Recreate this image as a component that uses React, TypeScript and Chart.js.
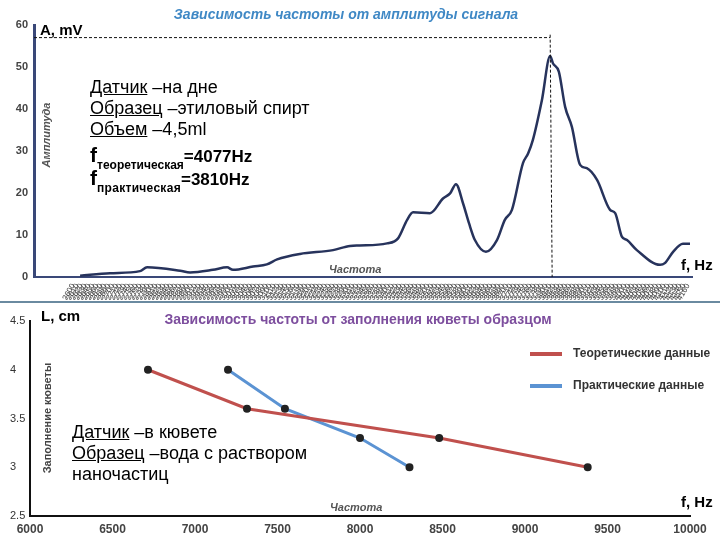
import React, { useEffect, useRef } from "react";
import { Chart, registerables } from "chart.js";
Chart.register(...registerables);

const FONT = "'Liberation Sans', Arial, sans-serif";
Chart.defaults.font.family = FONT;

// ---- Top chart: amplitude vs frequency ----
const signalFreqHz = [2617, 2693, 2769, 2787, 2871, 2896, 2954, 2990, 3005, 3056, 3091, 3117, 3175, 3259, 3302, 3327,
  3396, 3424, 3447, 3462, 3505, 3538, 3556, 3571, 3589, 3604, 3619, 3647, 3675, 3695, 3713, 3741, 3754, 3766, 3789, 3810,
  3817, 3832, 3848, 3865, 3886, 3903, 3929, 3962, 3975, 3992, 4005, 4030, 4089, 4101, 4122, 4147, 4165];
const signalAmpMV = [0.3, 0.9, 1.4, 2.3, 1.5, 1.1, 1.7, 2.3, 1.7, 2.5, 3.0, 4.2, 5.5, 6.4, 7.4, 7.5,
  8.0, 9.2, 13.6, 15.4, 15.2, 18.7, 19.9, 22.1, 17.5, 12.8, 8.8, 6.0, 8.8, 13.6, 16.0, 27.1, 29.4, 32.6, 42.1, 52.6,
  50.9, 48.9, 40.5, 35.8, 26.7, 25.9, 23.1, 16.0, 15.2, 9.6, 8.8, 6.4, 2.9, 3.3, 6.0, 7.9, 7.9];
const peakFreqHz = 3810;
const peakGuideMV = 57;
const topXMin = 2500;
const topXMax = 4170;
const topXTickFirst = 2600;
const topXTickLast = 4160;
const topXTickStep = 10;

// ---- Bottom chart: filling level vs frequency ----
const theoryFreqHz = [6715, 7315, 8480, 9380];
const theoryLevelCm = [4.0, 3.6, 3.3, 3.0];
const practiceFreqHz = [7200, 7545, 8000, 8300];
const practiceLevelCm = [4.0, 3.6, 3.3, 3.0];
const seriesNames = ["Теоретические данные", "Практические данные"];

const TOP_H = 300;
const BOT_TOP = 303;
const BOT_H = 237;

function topTexts(chart: any) {
  const { ctx, chartArea, scales } = chart;
  const xs = scales.x, ys = scales.y;
  ctx.save();
  const px = xs.getPixelForValue(peakFreqHz);
  const py = ys.getPixelForValue(peakGuideMV);
  ctx.setLineDash([3, 2]);
  ctx.strokeStyle = "#111";
  ctx.lineWidth = 1;
  ctx.beginPath();
  ctx.moveTo(chartArea.left, py);
  ctx.lineTo(px, py);
  ctx.moveTo(px, ys.getPixelForValue(peakGuideMV + 0.7));
  ctx.lineTo(px + 2, ys.getPixelForValue(0));
  ctx.stroke();
  ctx.setLineDash([]);

  ctx.textBaseline = "middle";
  ctx.textAlign = "center";
  ctx.fillStyle = "#3f88c5";
  ctx.font = `italic bold 14px ${FONT}`;
  ctx.fillText("Зависимость частоты от амплитуды сигнала", 346, 15);

  ctx.textAlign = "left";
  ctx.fillStyle = "#000";
  ctx.font = `bold 15px ${FONT}`;
  ctx.fillText("A, mV", 40, 31);
  ctx.fillText("f, Hz", 681, 266);

  ctx.fillStyle = "#555";
  ctx.font = `italic bold 11px ${FONT}`;
  ctx.fillText("Частота", 329, 270);
  ctx.save();
  ctx.translate(47, 135);
  ctx.rotate(-Math.PI / 2);
  ctx.textAlign = "center";
  ctx.fillText("Амплитуда", 0, 0);
  ctx.restore();
  ctx.restore();
}

function bottomTexts(chart: any) {
  const { ctx } = chart;
  const o = BOT_TOP;
  ctx.save();
  ctx.textBaseline = "middle";
  ctx.textAlign = "center";
  ctx.fillStyle = "#7d4e9e";
  ctx.font = `bold 14px ${FONT}`;
  ctx.fillText("Зависимость частоты от заполнения кюветы образцом", 358, 320 - o);

  ctx.textAlign = "left";
  ctx.fillStyle = "#000";
  ctx.font = `bold 15px ${FONT}`;
  ctx.fillText("L, cm", 41, 317 - o);
  ctx.fillText("f, Hz", 681, 503 - o);

  ctx.fillStyle = "#555";
  ctx.font = `italic bold 11px ${FONT}`;
  ctx.fillText("Частота", 330, 508 - o);

  ctx.save();
  ctx.fillStyle = "#444";
  ctx.font = `bold 11px ${FONT}`;
  ctx.translate(48, 418 - o);
  ctx.rotate(-Math.PI / 2);
  ctx.textAlign = "center";
  ctx.fillText("Заполнение кюветы", 0, 0);
  ctx.restore();

  const ys = [354 - o, 386 - o];
  chart.data.datasets.forEach((ds: any, i: number) => {
    ctx.strokeStyle = ds.borderColor;
    ctx.lineWidth = 4;
    ctx.beginPath();
    ctx.moveTo(530, ys[i]);
    ctx.lineTo(562, ys[i]);
    ctx.stroke();
    ctx.fillStyle = "#333";
    ctx.font = `bold 12px ${FONT}`;
    ctx.fillText(ds.label, 573, ys[i]);
  });
  ctx.restore();
}

export default function App() {
  const topRef = useRef<HTMLCanvasElement>(null);
  const botRef = useRef<HTMLCanvasElement>(null);

  useEffect(() => {
    const top = new Chart(topRef.current!, {
      type: "line",
      data: {
        datasets: [
          {
            data: signalFreqHz.map((x, i) => ({ x, y: signalAmpMV[i] })),
            borderColor: "#27335c",
            borderWidth: 2.5,
            pointRadius: 0,
            cubicInterpolationMode: "monotone",
            fill: false,
          },
        ],
      },
      options: {
        animation: false,
        responsive: false,
        maintainAspectRatio: false,
        layout: { padding: { left: 0, right: 28, top: 25, bottom: 0 } },
        plugins: { legend: { display: false }, tooltip: { enabled: false }, title: { display: false } },
        scales: {
          x: {
            type: "linear",
            min: topXMin,
            max: topXMax,
            grid: { display: false, drawTicks: false },
            border: { color: "#3a4878", width: 2 },
            ticks: {
              stepSize: topXTickStep,
              autoSkip: false,
              minRotation: 60,
              maxRotation: 60,
              padding: 5,
              color: "#444",
              font: { size: 8 },
              callback: (v: any) => (v >= topXTickFirst && v <= topXTickLast ? String(v) : ""),
            },
            afterFit: (s: any) => {
              s.height = 23;
            },
          },
          y: {
            min: 0,
            max: 60,
            grid: { display: false, drawTicks: false },
            border: { color: "#3a4878", width: 3 },
            ticks: { stepSize: 10, padding: 6, color: "#444", font: { size: 11, weight: "bold" } },
            afterFit: (s: any) => {
              s.width = 34;
            },
          },
        },
      },
      plugins: [{ id: "topTexts", afterDraw: topTexts }],
    } as any);

    const bot = new Chart(botRef.current!, {
      type: "line",
      data: {
        datasets: [
          {
            label: seriesNames[0],
            data: theoryFreqHz.map((x, i) => ({ x, y: theoryLevelCm[i] })),
            borderColor: "#c0504d",
            borderWidth: 3,
            pointRadius: 2.5,
            pointBackgroundColor: "#222",
            pointBorderColor: "#222",
            tension: 0,
          },
          {
            label: seriesNames[1],
            data: practiceFreqHz.map((x, i) => ({ x, y: practiceLevelCm[i] })),
            borderColor: "#5b93d3",
            borderWidth: 3,
            pointRadius: 2.5,
            pointBackgroundColor: "#222",
            pointBorderColor: "#222",
            tension: 0,
          },
        ],
      },
      options: {
        animation: false,
        responsive: false,
        maintainAspectRatio: false,
        layout: { padding: { left: 10, right: 30, top: 18, bottom: 0 } },
        plugins: { legend: { display: false }, tooltip: { enabled: false }, title: { display: false } },
        scales: {
          x: {
            type: "linear",
            min: 6000,
            max: 10000,
            grid: { display: false, drawTicks: false },
            border: { color: "#111", width: 2 },
            ticks: {
              stepSize: 500,
              maxRotation: 0,
              padding: 6,
              color: "#444",
              font: { size: 12, weight: "bold" },
              callback: (v: any) => String(v),
            },
            afterFit: (s: any) => {
              s.height = 24;
            },
          },
          y: {
            min: 2.5,
            max: 4.5,
            grid: { display: false, drawTicks: false },
            border: { color: "#111", width: 2 },
            ticks: {
              stepSize: 0.5,
              crossAlign: "far",
              padding: 4,
              color: "#333",
              font: { size: 11 },
              callback: (v: any) => String(v),
            },
            afterFit: (s: any) => {
              s.width = 20;
            },
          },
        },
      },
      plugins: [{ id: "botTexts", afterDraw: bottomTexts }],
    } as any);

    return () => {
      top.destroy();
      bot.destroy();
    };
  }, []);

  const info: React.CSSProperties = {
    position: "absolute",
    fontFamily: FONT,
    fontSize: 18,
    lineHeight: "21px",
    color: "#000",
    whiteSpace: "nowrap",
  };
  const fLine: React.CSSProperties = {
    position: "absolute",
    left: 90,
    fontFamily: FONT,
    fontWeight: "bold",
    color: "#000",
    whiteSpace: "nowrap",
    lineHeight: "24px",
  };

  return (
    <div style={{ position: "fixed", left: 0, top: 0, width: 720, height: 540, background: "#fff", overflow: "hidden" }}>
      <canvas ref={topRef} width={720} height={TOP_H} style={{ position: "absolute", left: 0, top: 0, width: 720, height: TOP_H }} />
      <div style={{ position: "absolute", left: 0, top: 301, width: 720, height: 2, background: "#6a8aa0" }} />
      <canvas ref={botRef} width={720} height={BOT_H} style={{ position: "absolute", left: 0, top: BOT_TOP, width: 720, height: BOT_H }} />

      <div style={{ ...info, left: 90, top: 77 }}>
        <div><u>Датчик</u> –на дне</div>
        <div><u>Образец</u> –этиловый спирт</div>
        <div><u>Объем</u> –4,5ml</div>
      </div>
      <div style={{ ...fLine, top: 143 }}>
        <span style={{ fontSize: 21 }}>f</span>
        <span style={{ fontSize: 12, verticalAlign: -7 }}>теоретическая</span>
        <span style={{ fontSize: 17 }}>=4077Hz</span>
      </div>
      <div style={{ ...fLine, top: 166 }}>
        <span style={{ fontSize: 21 }}>f</span>
        <span style={{ fontSize: 12, verticalAlign: -7, letterSpacing: 0.3 }}>практическая</span>
        <span style={{ fontSize: 17 }}>=3810Hz</span>
      </div>

      <div style={{ ...info, left: 72, top: 422 }}>
        <div><u>Датчик</u> –в кювете</div>
        <div><u>Образец</u> –вода с раствором</div>
        <div>наночастиц</div>
      </div>
    </div>
  );
}
